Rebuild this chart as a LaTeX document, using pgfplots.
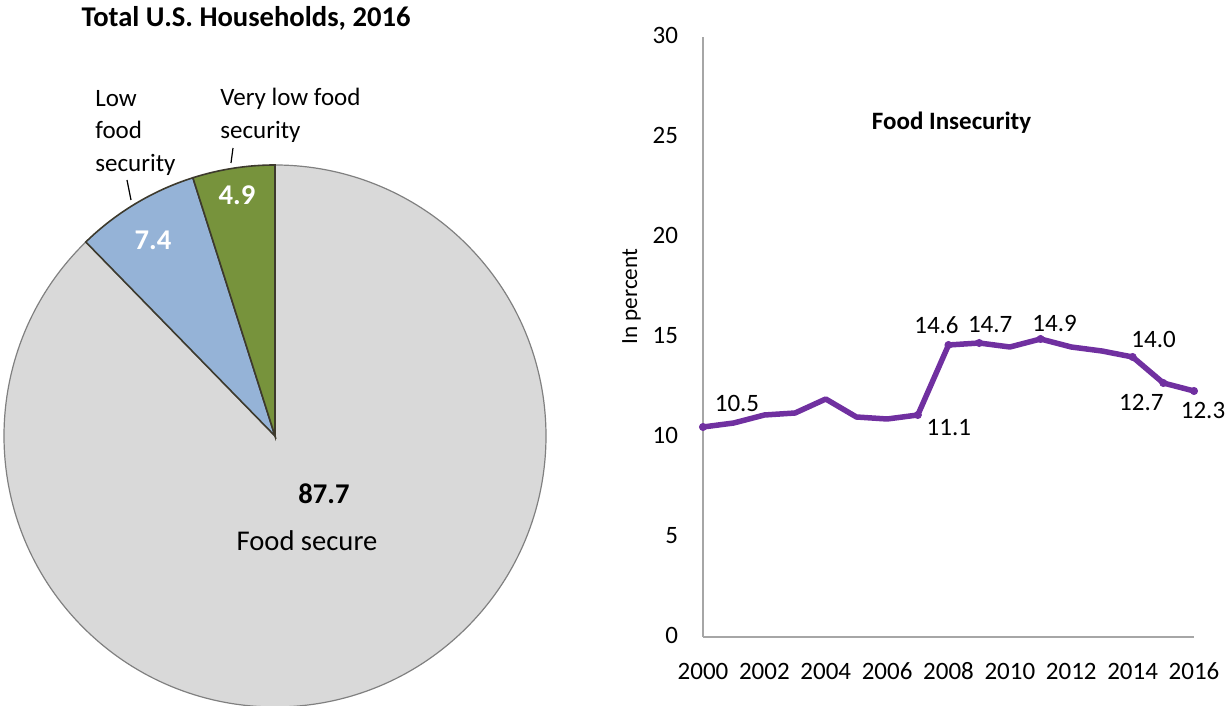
\documentclass[border=0pt]{standalone}
\usepackage{fontspec}
\setmainfont{Carlito}
\usepackage{pgfplots}
\usepackage{pgfplotstable}
\pgfplotsset{compat=1.18}

\definecolor{secure}{HTML}{D9D9D9}
\definecolor{lowsec}{HTML}{95B3D7}
\definecolor{vlowsec}{HTML}{77933C}
\definecolor{filine}{HTML}{7030A0}
\definecolor{axgray}{HTML}{A6A6A6}

% food insecurity rate, percent of households
\pgfplotstableread{
year rate
2000 10.5
2001 10.7
2002 11.1
2003 11.2
2004 11.9
2005 11.0
2006 10.9
2007 11.1
2008 14.6
2009 14.7
2010 14.5
2011 14.9
2012 14.5
2013 14.3
2014 14.0
2015 12.7
2016 12.3
}\fitable

% 2016 shares, percent
\def\vlowval{4.9}
\def\lowval{7.4}
\def\secval{87.7}

\newcommand\fsz{\fontsize{12.5}{16.25}\selectfont}
\newcommand\fbig{\fontsize{14.3}{17}\selectfont}

\begin{document}
\begin{tikzpicture}[x=0.5pt,y=0.5pt]
\useasboundingbox (0,0) rectangle (1225,706);
\pgfmathsetmacro\angA{90+3.6*\vlowval}
\pgfmathsetmacro\angB{\angA+3.6*\lowval}

% ---- pie (canvas axis in pixel units)
\begin{axis}[at={(0pt,0pt)}, anchor=south west, scale only axis,
    width=612.5pt, height=353pt,
    xmin=0, xmax=1225, ymin=0, ymax=706,
    hide axis, clip=false]
\fill[secure, draw=gray, line width=0.6pt] (axis cs:275,270) -- ++(\angB:135.5pt)
    arc[start angle=\angB, end angle=450, radius=135.5pt] -- cycle;
\fill[lowsec, draw=black!75!olive, line width=0.8pt] (axis cs:275,270) -- ++(\angA:135.5pt)
    arc[start angle=\angA, end angle=\angB, radius=135.5pt] -- cycle;
\fill[vlowsec, draw=black!75!olive, line width=0.8pt] (axis cs:275,270) -- ++(90:135.5pt)
    arc[start angle=90, end angle=\angA, radius=135.5pt] -- cycle;

\node[font=\fbig\bfseries] at (axis cs:246,688) {Total U.S. Households, 2016};
\node[font=\fbig\bfseries] at (axis cs:324,212) {\secval};
\node[font=\fbig] at (axis cs:307,165) {Food secure};
\node[font=\fbig\bfseries, text=white] at (axis cs:153,466) {\lowval};
\node[font=\fbig\bfseries, text=white] at (axis cs:237,511) {\vlowval};
\node[font=\fsz, align=left, anchor=north west, inner sep=0pt] at (axis cs:95,616) {Low\\food\\security};
\node[font=\fsz, align=left, anchor=north west, inner sep=0pt] at (axis cs:220,618) {Very low food\\security};
\draw[black, line width=0.6pt] (axis cs:127,526) -- (axis cs:131,506);
\draw[black, line width=0.6pt] (axis cs:233,558) -- (axis cs:231,543);
\end{axis}

% ---- line chart
\begin{axis}[at={(351.5pt,34.5pt)}, anchor=south west, scale only axis,
    width=245.5pt, height=300pt,
    xmin=2000, xmax=2016, ymin=0, ymax=30,
    axis lines=left,
    axis line style={-, draw=axgray, line width=0.8pt},
    major tick length=0pt,
    xtick={2000,2002,...,2016}, ytick={0,5,...,30},
    typeset ticklabels with strut,
    tick label style={font=\fsz, text=black},
    /pgf/number format/assume math mode=true,
    x tick label style={/pgf/number format/1000 sep={}, anchor=north, yshift=-6.5pt},
    y tick label style={xshift=-9pt},
    ylabel={In percent},
    ylabel style={font=\fontsize{11.6}{13}\selectfont, at={(ticklabel cs:0.567)}, yshift=-1pt},
    clip=false]
\addplot[filine, line width=2.75pt, line join=round, no marks] table[x=year, y=rate] {\fitable};
\pgfplotsset{lbl/.style 2 args={only marks, mark=*, mark size=1.8pt, filine, forget plot,
    point meta=explicit symbolic, nodes near coords,
    nodes near coords style={anchor=center, text=black, font=\fsz, xshift=#1, yshift=#2}}}
\addplot[lbl={17pt}{12pt}] coordinates {(2000,10.5) [10.5]};
\addplot[lbl={15.5pt}{-6.5pt}] coordinates {(2007,11.1) [11.1]};
\addplot[lbl={-6pt}{10pt}] coordinates {(2008,14.6) [14.6]};
\addplot[lbl={5.5pt}{9pt}] coordinates {(2009,14.7) [14.7]};
\addplot[lbl={7pt}{8pt}] coordinates {(2011,14.9) [14.9]};
\addplot[lbl={10.5pt}{9pt}] coordinates {(2014,14.0) [14.0]};
\addplot[lbl={-11pt}{-9.5pt}] coordinates {(2015,12.7) [12.7]};
\addplot[lbl={4.5pt}{-9.5pt}] coordinates {(2016,12.3) [12.3]};
\node[font=\fsz\bfseries] at (axis cs:2008.1,25.7) {Food Insecurity};
\end{axis}
\end{tikzpicture}
\end{document}
